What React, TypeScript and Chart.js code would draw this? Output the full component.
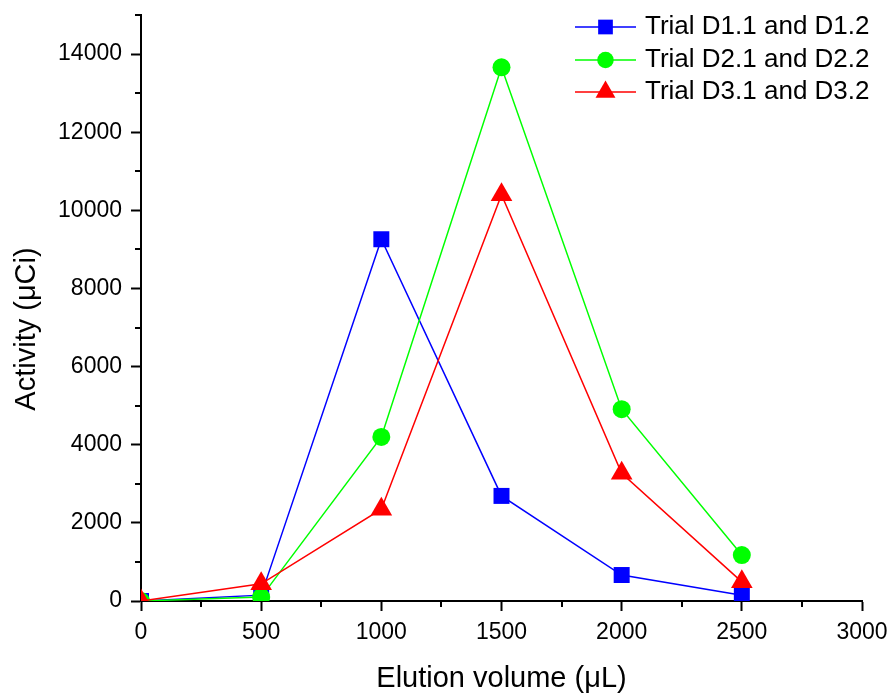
import React, { useEffect, useRef } from 'react';
import { Chart, registerables } from 'chart.js';

Chart.register(...registerables);

const elutionVolumes = [0, 500, 1000, 1500, 2000, 2500];
const trialD1 = [0, 150, 9260, 2690, 665, 150];
const trialD2 = [0, 100, 4200, 13660, 4910, 1175];
const trialD3 = [0, 440, 2350, 10400, 3270, 490];
const seriesLabels = ['Trial D1.1 and D1.2', 'Trial D2.1 and D2.2', 'Trial D3.1 and D3.2'];
const seriesColors = ['#0000FF', '#00FF00', '#FF0000'];
const seriesMarkers = ['rect', 'circle', 'triangle'];
const markerRadii = [11.3, 9, 12.5];
const xTickValues = [0, 500, 1000, 1500, 2000, 2500, 3000];
const yTickValues = [0, 2000, 4000, 6000, 8000, 10000, 12000, 14000];
const xMinorTicks = [250, 750, 1250, 1750, 2250, 2750];
const yMinorTicks = [1000, 3000, 5000, 7000, 9000, 11000, 13000, 15000];
const xAxisTitle = 'Elution volume (\u03bcL)';
const yAxisTitle = 'Activity (\u03bcCi)';

const FONT = '"Liberation Sans", Arial, sans-serif';

function drawMarker(ctx: CanvasRenderingContext2D, style: string, x: number, y: number, r: number, color: string) {
  ctx.fillStyle = color;
  ctx.beginPath();
  if (style === 'rect') {
    const h = r * Math.SQRT1_2;
    ctx.rect(x - h, y - h, 2 * h, 2 * h);
  } else if (style === 'circle') {
    ctx.arc(x, y, r, 0, Math.PI * 2);
  } else {
    const s = Math.sin((2 * Math.PI) / 3) * r;
    ctx.moveTo(x, y - r);
    ctx.lineTo(x + s, y + r / 2);
    ctx.lineTo(x - s, y + r / 2);
    ctx.closePath();
  }
  ctx.fill();
}

const decorPlugin = {
  id: 'decor',
  afterDraw(chart: any) {
    const ctx: CanvasRenderingContext2D = chart.ctx;
    const xs = chart.scales.x;
    const ys = chart.scales.y;
    const area = chart.chartArea;
    ctx.save();
    ctx.strokeStyle = '#000';
    ctx.lineWidth = 2;
    xMinorTicks.forEach((v) => {
      const px = Math.round(xs.getPixelForValue(v));
      ctx.beginPath();
      ctx.moveTo(px, area.bottom);
      ctx.lineTo(px, area.bottom + 6);
      ctx.stroke();
    });
    yMinorTicks.forEach((v) => {
      const py = Math.round(ys.getPixelForValue(v));
      ctx.beginPath();
      ctx.moveTo(area.left, py);
      ctx.lineTo(area.left - 6, py);
      ctx.stroke();
    });
    ctx.save();
    ctx.translate(27, 329);
    ctx.rotate(-Math.PI / 2);
    ctx.fillStyle = '#000';
    ctx.font = `29px ${FONT}`;
    ctx.textAlign = 'center';
    ctx.textBaseline = 'middle';
    ctx.fillText(yAxisTitle, 0, 0);
    ctx.restore();
    const rowYs = [27, 60, 92];
    seriesLabels.forEach((label, i) => {
      const y = rowYs[i];
      ctx.strokeStyle = seriesColors[i];
      ctx.lineWidth = 1.5;
      ctx.beginPath();
      ctx.moveTo(575, y);
      ctx.lineTo(636, y);
      ctx.stroke();
      drawMarker(ctx, seriesMarkers[i], 605.5, y, markerRadii[i] * 0.92, seriesColors[i]);
      ctx.fillStyle = '#000';
      ctx.font = `26px ${FONT}`;
      ctx.textAlign = 'left';
      ctx.textBaseline = 'alphabetic';
      ctx.fillText(label, 645, y + 6.5);
    });
    ctx.restore();
  },
};

export default function App() {
  const canvasRef = useRef<HTMLCanvasElement | null>(null);

  useEffect(() => {
    const canvas = canvasRef.current;
    if (!canvas) return;
    const seriesData = [trialD1, trialD2, trialD3];
    const gridOpts = {
      display: true,
      drawOnChartArea: false,
      drawTicks: true,
      tickLength: 10,
      tickWidth: 2,
      tickColor: '#000',
      color: '#000',
    };
    const chart = new Chart(canvas, {
      type: 'line',
      data: {
        datasets: seriesData.map((vals, i) => ({
          label: seriesLabels[i],
          data: elutionVolumes.map((x, j) => ({ x, y: vals[j] })),
          borderColor: seriesColors[i],
          backgroundColor: seriesColors[i],
          borderWidth: 1.5,
          pointStyle: seriesMarkers[i] as any,
          pointRadius: markerRadii[i],
          pointBorderWidth: 0,
          pointBackgroundColor: seriesColors[i],
          pointBorderColor: seriesColors[i],
          tension: 0,
          fill: false,
          order: 3 - i,
        })),
      },
      options: {
        responsive: false,
        animation: false,
        events: [],
        layout: { padding: { top: 15, right: 29, left: 0, bottom: 0 } },
        plugins: {
          legend: { display: false },
          tooltip: { enabled: false },
          title: { display: false },
        },
        scales: {
          x: {
            type: 'linear',
            min: 0,
            max: 3000,
            afterBuildTicks: (s: any) => {
              s.ticks = xTickValues.map((value) => ({ value }));
            },
            afterFit: (s: any) => {
              s.height = 92;
              s.paddingLeft = 0;
              s.paddingRight = 0;
            },
            ticks: {
              color: '#000',
              padding: 8,
              font: { family: FONT, size: 23 },
              callback: (v: any) => String(v),
              maxRotation: 0,
              autoSkip: false,
            },
            grid: gridOpts,
            border: { display: true, color: '#000', width: 2 },
            title: {
              display: true,
              text: xAxisTitle,
              color: '#000',
              font: { family: FONT, size: 29, lineHeight: 1 },
              padding: 0,
            },
          },
          y: {
            type: 'linear',
            min: 0,
            max: 15000,
            afterBuildTicks: (s: any) => {
              s.ticks = yTickValues.map((value) => ({ value }));
            },
            afterFit: (s: any) => {
              s.width = 141;
              s.paddingTop = 0;
              s.paddingBottom = 0;
            },
            ticks: {
              color: '#000',
              padding: 9,
              font: { family: FONT, size: 23 },
              callback: (v: any) => String(v),
              autoSkip: false,
            },
            grid: gridOpts,
            border: { display: true, color: '#000', width: 2 },
            title: { display: false },
          },
        },
      },
      plugins: [decorPlugin],
    });
    return () => chart.destroy();
  }, []);

  return (
    <div style={{ position: 'fixed', left: 0, top: 0, width: 891, height: 693, background: '#fff' }}>
      <canvas ref={canvasRef} width={891} height={693} style={{ display: 'block' }} />
    </div>
  );
}
